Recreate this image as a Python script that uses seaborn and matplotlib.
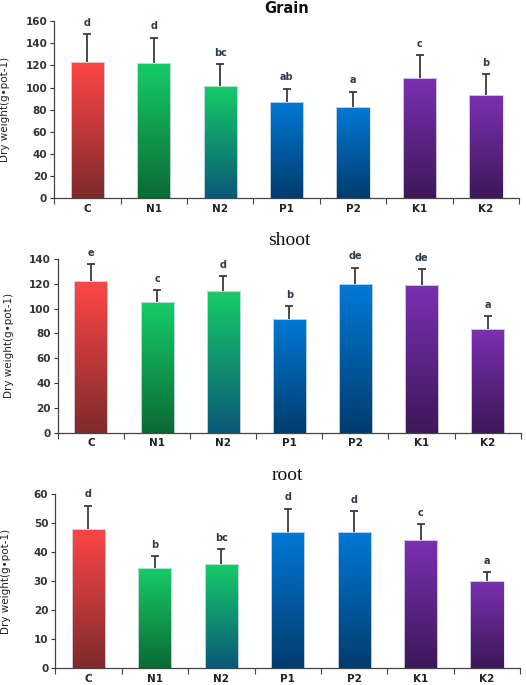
import numpy as np
import pandas as pd
import matplotlib
matplotlib.use("Agg")
import matplotlib.pyplot as plt
import seaborn as sns
from matplotlib.colors import LinearSegmentedColormap
from matplotlib.ticker import FixedLocator, MultipleLocator

treatments = ["C", "N1", "N2", "P1", "P2", "K1", "K2"]

grain_mean = [123, 122, 101, 87, 82, 109, 93]
grain_err = [25, 23, 20, 12, 14, 20, 19]
grain_letters = ["d", "d", "bc", "ab", "a", "c", "b"]

shoot_mean = [122, 105, 114, 92, 119.5, 119, 84]
shoot_err = [14, 10, 12, 10, 13.5, 13, 10]
shoot_letters = ["e", "c", "d", "b", "de", "de", "a"]

root_mean = [48, 34.5, 36, 47, 47, 44, 30]
root_err = [8, 4, 5, 8, 7, 5.5, 3]
root_letters = ["d", "b", "bc", "d", "d", "c", "a"]

top_colors = ["#ff4646", "#16cc68", "#16cc68", "#0079d6", "#0079d6", "#7b30b2", "#7b30b2"]
bottom_colors = ["#7e2a2c", "#0b6a35", "#0a5878", "#003c6e", "#003c6e", "#3c1858", "#3c1858"]

sns.set_style("white")
plt.rcParams["font.family"] = ["DejaVu Sans"]

fig = plt.figure(figsize=(5.26, 6.85), dpi=100)

panels = [
    ("Grain", grain_mean, grain_err, grain_letters, 160, 20, [0.103, 0.711, 0.884, 0.258], "sans"),
    ("shoot", shoot_mean, shoot_err, shoot_letters, 140, 20, [0.110, 0.368, 0.880, 0.254], "serif"),
    ("root", root_mean, root_err, root_letters, 60, 10, [0.105, 0.0248, 0.884, 0.254], "serif"),
]

grad = np.linspace(0, 1, 256).reshape(-1, 1)

for title, mean, err, letters, ymax, step, rect, tfont in panels:
    ax = fig.add_axes(rect)
    df = pd.DataFrame({"treatment": treatments, "value": mean})
    sns.barplot(data=df, x="treatment", y="value", ax=ax, width=0.5,
                color="white", edgecolor="#d8e2ee", linewidth=0.6, errorbar=None)
    for i, patch in enumerate(ax.patches):
        x0, w, h = patch.get_x(), patch.get_width(), patch.get_height()
        cmap = LinearSegmentedColormap.from_list("g", [bottom_colors[i], top_colors[i]])
        im = ax.imshow(grad, extent=[x0, x0 + w, 0, h], origin="lower",
                       aspect="auto", cmap=cmap, zorder=0.9, interpolation="bilinear")
        im.set_clip_path(patch)
        patch.set_facecolor("none")
        patch.set_zorder(1.5)

    xs = np.arange(len(treatments))
    tops = np.array(mean) + np.array(err)
    ax.vlines(xs, np.array(mean), tops, color="#3a3a3a", linewidth=1.3, zorder=3)
    ax.scatter(xs, tops, marker="_", s=40, color="#3a3a3a", linewidths=1.3, zorder=3)

    for i, lab in enumerate(letters):
        ax.text(xs[i], tops[i] + ymax * 0.065, lab, ha="center", va="center",
                fontsize=7, fontweight="bold", color="#2b3a4a")

    ax.set_xlim(-0.5, len(treatments) - 0.5)
    ax.set_ylim(0, ymax)
    ax.yaxis.set_major_locator(MultipleLocator(step))
    ax.set_xlabel("")
    ax.set_ylabel("Dry weight(g\u2022pot-1)", fontsize=7.5, color="#222222")
    ax.yaxis.set_label_coords(-0.095, 0.5)

    ax.xaxis.set_minor_locator(FixedLocator(np.arange(-0.5, len(treatments), 1.0)))
    ax.tick_params(axis="x", which="major", length=0, pad=4, labelsize=7.5, colors="#222222")
    ax.tick_params(axis="x", which="minor", length=4, width=0.8, direction="out", color="#444444", bottom=True)
    ax.tick_params(axis="y", which="major", length=3, width=0.8, direction="out", left=True,
                   labelsize=7.5, colors="#333333", pad=2)
    for lab in ax.get_xticklabels() + ax.get_yticklabels():
        lab.set_fontweight("bold")

    sns.despine(ax=ax)
    for s in ["left", "bottom"]:
        ax.spines[s].set_color("#444444")
        ax.spines[s].set_linewidth(0.9)

    if tfont == "sans":
        ax.set_title(title, fontsize=10.5, fontweight="bold", pad=6, color="#111111")
    else:
        ax.set_title(title, fontsize=14, fontweight="normal", family="Liberation Serif",
                     pad=10, color="#111111")

fig.savefig("out.png", dpi=100)
